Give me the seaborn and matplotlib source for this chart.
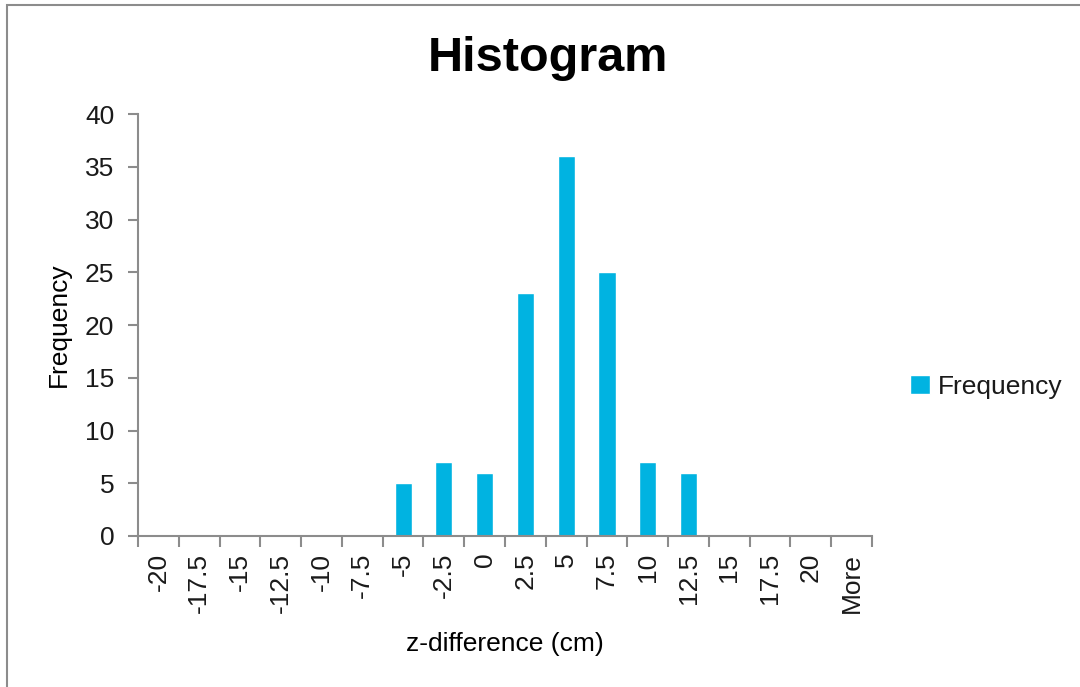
import matplotlib
matplotlib.use("Agg")
import matplotlib.pyplot as plt
from matplotlib.patches import Rectangle
import seaborn as sns
import numpy as np

# Bin labels and counts
bins = ["-20", "-17.5", "-15", "-12.5", "-10", "-7.5", "-5", "-2.5", "0", "2.5",
        "5", "7.5", "10", "12.5", "15", "17.5", "20", "More"]
frequency = [0, 0, 0, 0, 0, 0, 5, 7, 6, 23, 36, 25, 7, 6, 0, 0, 0, 0]

bar_color = "#00B3E1"
axis_gray = "#8C8C8C"
text_color = "#1A1A1A"

sns.set_theme(style="white")
plt.rcParams["font.family"] = ["Liberation Sans", "DejaVu Sans"]

fig = plt.figure(figsize=(10.8, 6.87), dpi=100)
ax = fig.add_axes([0.1278, 0.2198, 0.6796, 0.6142])

sns.barplot(x=bins, y=frequency, color=bar_color, width=0.42, ax=ax,
            label="Frequency", saturation=1)

ax.set_xlim(-0.5, len(bins) - 0.5)
ax.set_ylim(0, 40)
ax.set_yticks(np.arange(0, 41, 5))
ax.tick_params(axis="y", labelsize=19, length=7, width=1.5, color=axis_gray,
               direction="out", pad=10, left=True, labelcolor=text_color)

# Category labels centered, tick marks on bin boundaries
ax.set_xticks(np.arange(len(bins)))
ax.set_xticklabels(bins, rotation=90, fontsize=19, color=text_color)
ax.set_xticks(np.arange(-0.5, len(bins), 1.0), minor=True)
ax.tick_params(axis="x", which="major", length=0, pad=12, bottom=True)
ax.tick_params(axis="x", which="minor", length=8, width=1.5, color=axis_gray,
               direction="out", bottom=True)

for side in ["top", "right"]:
    ax.spines[side].set_visible(False)
for side in ["left", "bottom"]:
    ax.spines[side].set_color(axis_gray)
    ax.spines[side].set_linewidth(1.5)

ax.set_xlabel("z-difference (cm)", fontsize=19, labelpad=14, color="black")
ax.set_ylabel("Frequency", fontsize=19, labelpad=10, color="black")

fig.suptitle("Histogram", x=0.507, y=0.948, fontsize=35, fontweight="bold",
             color="black")

ax.legend(loc="center left", bbox_to_anchor=(0.821, 0.437),
          bbox_transform=fig.transFigure, frameon=False, fontsize=19,
          handlelength=0.75, handleheight=0.75, handletextpad=0.3,
          labelcolor=text_color)

# Chart frame
fig.patches.append(Rectangle((0.0065, -0.05), 1.1, 1.0427, transform=fig.transFigure,
                             fill=False, edgecolor=axis_gray, linewidth=1.5))

fig.savefig("out.png", dpi=100, facecolor="white")
